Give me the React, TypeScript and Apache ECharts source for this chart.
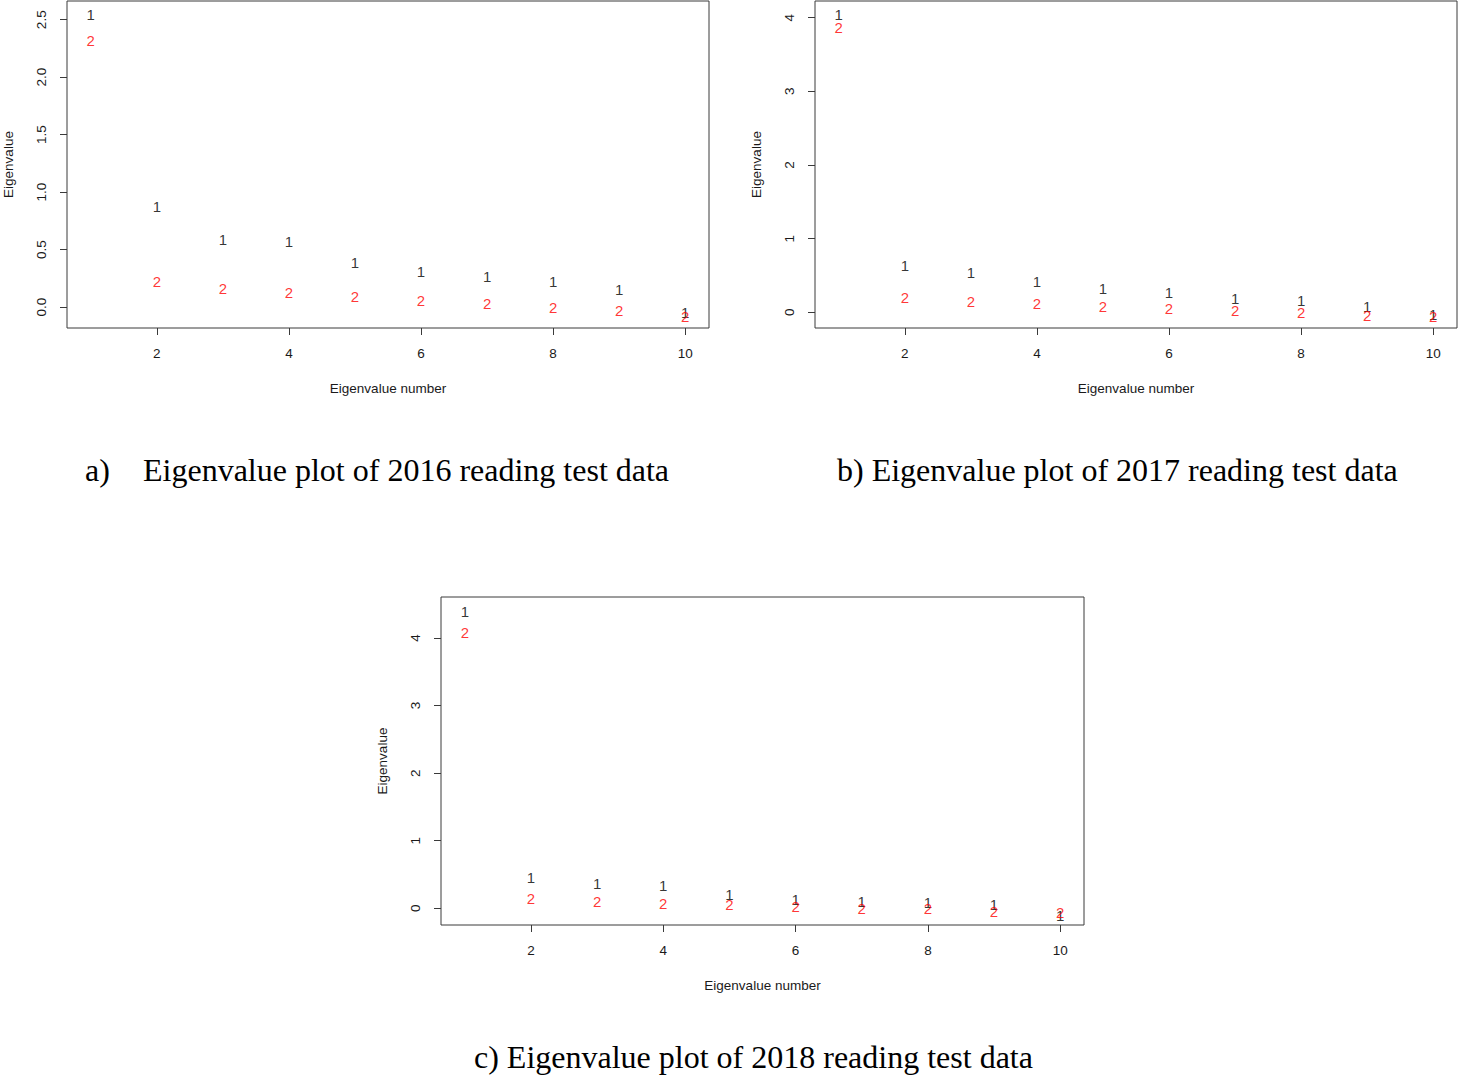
import React, { useEffect, useRef } from "react";
import * as echarts from "echarts";

const eigenNumbers = [1, 2, 3, 4, 5, 6, 7, 8, 9, 10];
const xTicks = [2, 4, 6, 8, 10];

// 2016
const a1 = [2.546, 0.879, 0.584, 0.567, 0.385, 0.309, 0.266, 0.222, 0.15, -0.049];
const a2 = [2.32, 0.222, 0.159, 0.124, 0.089, 0.057, 0.029, 0.0, -0.032, -0.082];
const aYTicks = [0, 0.5, 1.0, 1.5, 2.0, 2.5];
// 2017
const b1 = [4.05, 0.629, 0.538, 0.416, 0.32, 0.266, 0.19, 0.167, 0.076, -0.023];
const b2 = [3.865, 0.198, 0.144, 0.122, 0.076, 0.045, 0.022, 0.0, -0.037, -0.06];
const bYTicks = [0, 1, 2, 3, 4];
// 2018
const c1 = [4.394, 0.459, 0.36, 0.34, 0.197, 0.123, 0.098, 0.083, 0.049, -0.1];
const c2 = [4.083, 0.138, 0.098, 0.074, 0.049, 0.024, 0.0, -0.01, -0.04, -0.055];
const cYTicks = [0, 1, 2, 3, 4];

const captions = [
  { tag: "a)", text: "Eigenvalue plot of 2016 reading test data" },
  { tag: "b)", text: "Eigenvalue plot of 2017 reading test data" },
  { tag: "c)", text: "Eigenvalue plot of 2018 reading test data" },
];

const SANS = "'Liberation Sans', Arial, sans-serif";
const SERIF = "'Liberation Serif', 'Times New Roman', serif";
const FS = 13.5;
const MFS = 15;
const TXT = "#1a1a1a";
const BOX = "#3a3a3a";

export default function App() {
  const ref = useRef<HTMLDivElement>(null);
  useEffect(() => {
    if (!ref.current) return;
    const chart = echarts.init(ref.current, undefined, { renderer: "svg" });

    const grids = [
      { left: 66, top: 1, width: 643, height: 327 },
      { left: 815, top: 1, width: 642, height: 327 },
      { left: 441, top: 597, width: 643, height: 328 },
    ];
    const yRanges = [
      { min: -0.182, max: 2.663, ticks: aYTicks, dec: 1 },
      { min: -0.213, max: 4.227, ticks: bYTicks, dec: 0 },
      { min: -0.247, max: 4.607, ticks: cYTicks, dec: 0 },
    ];
    const sets = [
      [a1, a2],
      [b1, b2],
      [c1, c2],
    ];

    const xAxis = grids.map((_, i) => ({
      type: "value",
      gridIndex: i,
      position: "bottom",
      min: 0.64,
      max: 10.36,
      name: "Eigenvalue number",
      nameLocation: "middle",
      nameGap: 53,
      nameTextStyle: { fontFamily: SANS, fontSize: FS, color: TXT },
      axisLine: { show: false, onZero: false },
      splitLine: { show: false },
      axisTick: {
        show: true,
        inside: false,
        length: 7,
        customValues: xTicks,
        lineStyle: { color: BOX, width: 1 },
      },
      axisLabel: {
        show: true,
        margin: 18,
        customValues: xTicks,
        fontFamily: SANS,
        fontSize: FS,
        color: TXT,
      },
    }));

    const yAxis = grids.map((_, i) => ({
      type: "value",
      gridIndex: i,
      position: "left",
      min: yRanges[i].min,
      max: yRanges[i].max,
      name: "Eigenvalue",
      nameLocation: "middle",
      nameGap: 52,
      nameRotate: 90,
      nameTextStyle: { fontFamily: SANS, fontSize: FS, color: TXT },
      axisLine: { show: false, onZero: false },
      splitLine: { show: false },
      axisTick: {
        show: true,
        inside: false,
        length: 7,
        customValues: yRanges[i].ticks,
        lineStyle: { color: BOX, width: 1 },
      },
      axisLabel: {
        show: true,
        rotate: 90,
        margin: 19,
        customValues: yRanges[i].ticks,
        formatter: (v: number) => v.toFixed(yRanges[i].dec),
        fontFamily: SANS,
        fontSize: FS,
        color: TXT,
      },
    }));

    const series: any[] = [];
    sets.forEach((pair, gi) => {
      pair.forEach((vals, si) => {
        series.push({
          type: "scatter",
          xAxisIndex: gi,
          yAxisIndex: gi,
          symbol: "circle",
          symbolSize: 1,
          itemStyle: { color: "rgba(0,0,0,0)" },
          data: eigenNumbers.map((n, k) => [n, vals[k]]),
          z: 2 + si,
          label: {
            show: true,
            position: "inside",
            formatter: si === 0 ? "1" : "2",
            fontFamily: SANS,
            fontSize: MFS,
            color: si === 0 ? "#000" : "#ff0000",
          },
        });
      });
    });

    const capStyle = { fontFamily: SERIF, fontSize: 32, fill: "#000" };
    const graphic: any[] = [
      { type: "text", left: 85, top: 454, style: { text: captions[0].tag, ...capStyle } },
      { type: "text", left: 143, top: 454, style: { text: captions[0].text, ...capStyle } },
      {
        type: "text",
        left: 837,
        top: 454,
        style: { text: captions[1].tag + " " + captions[1].text, ...capStyle },
      },
      {
        type: "text",
        left: 474,
        top: 1041,
        style: { text: captions[2].tag + " " + captions[2].text, ...capStyle },
      },
    ];

    chart.setOption({
      animation: false,
      backgroundColor: "#fff",
      grid: grids.map((g) => ({
        ...g,
        show: true,
        borderColor: BOX,
        borderWidth: 1,
        backgroundColor: "transparent",
        containLabel: false,
      })),
      xAxis,
      yAxis,
      series,
      graphic,
    });
    return () => chart.dispose();
  }, []);
  return (
    <div
      ref={ref}
      style={{ position: "absolute", left: 0, top: 0, width: 1458, height: 1075 }}
    />
  );
}
